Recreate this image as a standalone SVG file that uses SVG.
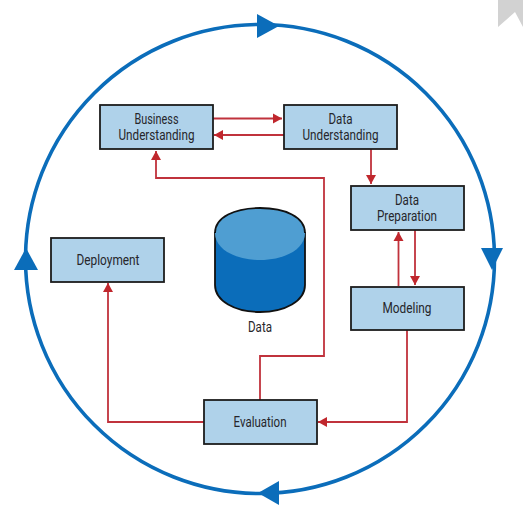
<svg xmlns="http://www.w3.org/2000/svg" width="523" height="505" viewBox="0 0 523 505">
<style>
.box{fill:#afd2ea;stroke:#1c1c1c;stroke-width:1.8}
.t{font-family:Roboto,"Noto Sans",sans-serif;font-size:14px;fill:#26262a;text-anchor:middle}
.c{fill:none;stroke:#c0323c;stroke-width:1.8}
.ah{fill:#c0272d}
.bh{fill:#0b6dba}
</style>
<defs>
<marker id="red" markerUnits="userSpaceOnUse" markerWidth="11" markerHeight="11" viewBox="0 0 11 11" refX="9" refY="5.500" orient="auto"><path class="ah" d="M0 0.500L9 5.500L0 10.500Z"/></marker>
</defs>
<rect width="523" height="505" fill="#fff"/>
<path d="M498 0H523V27L515 12L498 27Z" fill="#d2d2d2"/>
<g id="cycle">
<circle cx="260" cy="259" r="234.500" fill="none" stroke="#0b6dba" stroke-width="3.600"/>
<path class="bh" d="M257 14L279 26L257 38Z"/>
<path class="bh" d="M481 248L503 248L492 270Z"/>
<path class="bh" d="M279 481L279 505L258 493Z"/>
<path class="bh" d="M14 270L38 270L26 248Z"/>
</g>
<g id="connectors">
<path class="c" marker-end="url(#red)" d="M213 118.500H282"/>
<path class="c" marker-end="url(#red)" d="M284 135H214"/>
<path class="c" marker-end="url(#red)" d="M371 149V184"/>
<path class="c" marker-end="url(#red)" d="M398.500 286V232"/>
<path class="c" marker-end="url(#red)" d="M415 230V285"/>
<path class="c" marker-end="url(#red)" d="M407 330V422H318"/>
<path class="c" marker-end="url(#red)" d="M260 400V356H324V178H156V151"/>
<path class="c" marker-end="url(#red)" d="M204 422H108V283"/>
</g>
<g id="business"><rect class="box" x="100" y="105" width="113" height="44"/><text class="t" x="156.500" y="123.500" textLength="44" lengthAdjust="spacingAndGlyphs">Business</text><text class="t" x="156.500" y="140.200" textLength="76" lengthAdjust="spacingAndGlyphs">Understanding</text></g>
<g id="data-understanding"><rect class="box" x="284" y="105" width="113" height="44"/><text class="t" x="340.500" y="123.500" textLength="24" lengthAdjust="spacingAndGlyphs">Data</text><text class="t" x="340.500" y="140.200" textLength="76" lengthAdjust="spacingAndGlyphs">Understanding</text></g>
<g id="data-preparation"><rect class="box" x="351" y="186" width="113" height="44"/><text class="t" x="407" y="204.500" textLength="24" lengthAdjust="spacingAndGlyphs">Data</text><text class="t" x="407" y="221.200" textLength="60" lengthAdjust="spacingAndGlyphs">Preparation</text></g>
<g id="modeling"><rect class="box" x="351" y="287" width="113" height="43"/><text class="t" x="407" y="313" textLength="49" lengthAdjust="spacingAndGlyphs">Modeling</text></g>
<g id="evaluation"><rect class="box" x="204" y="400" width="113" height="44"/><text class="t" x="260" y="427" textLength="53" lengthAdjust="spacingAndGlyphs">Evaluation</text></g>
<g id="deployment"><rect class="box" x="51" y="238" width="113" height="44"/><text class="t" x="108" y="265" textLength="63" lengthAdjust="spacingAndGlyphs">Deployment</text></g>
<g id="data">
<path d="M215 233V285C215 301 235 312 260 312C285 312 305 301 305 285V233Z" fill="#0b6dba" stroke="#111" stroke-width="1.800"/>
<path d="M215 233C215 217 235 208 260 208C285 208 305 217 305 233C305 249 285 260 260 260C235 260 215 249 215 233Z" fill="#4f9ed2"/>
<path d="M215 233C215 217 235 208 260 208C285 208 305 217 305 233" fill="none" stroke="#111" stroke-width="1.800"/>
<text class="t" x="260" y="332" textLength="24" lengthAdjust="spacingAndGlyphs">Data</text>
</g>
</svg>
